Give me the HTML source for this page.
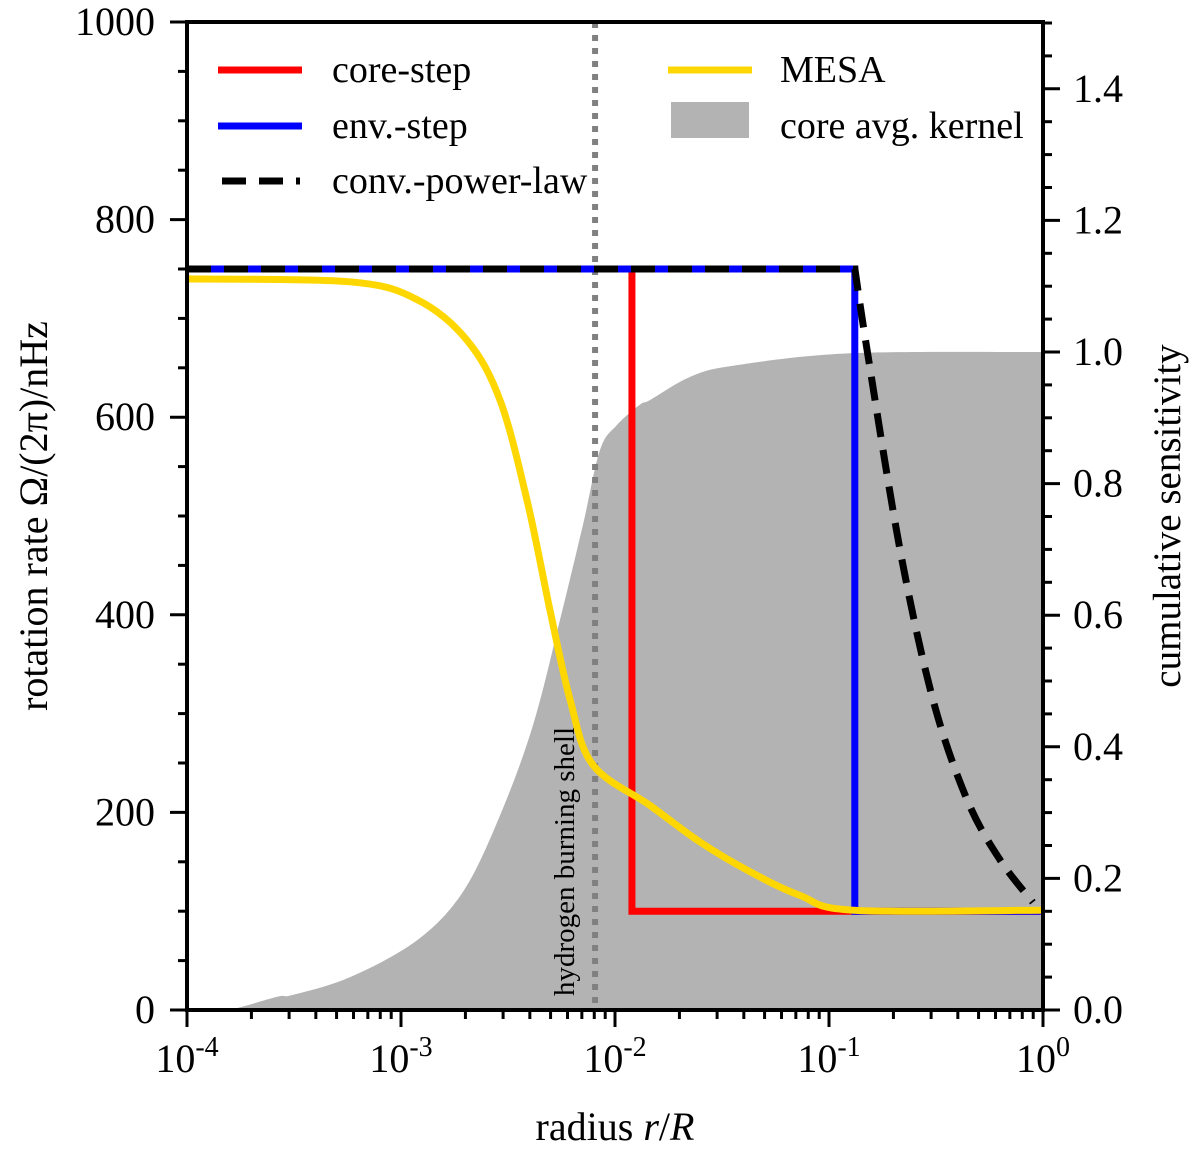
<!DOCTYPE html>
<html><head><meta charset="utf-8"><style>
html,body{margin:0;padding:0;background:#fff;}
svg{display:block;font-family:"Liberation Serif",serif;}
</style></head><body>
<svg id="chart" width="1200" height="1157" viewBox="0 0 1200 1157">
<g id="plot"></g>
</svg>
<script>
const kernelLogR=[-4,-3.813,-3.579,-3.505,-3.238,-2.925,-2.710,-2.537,-2.383,-2.257,-2.150,-2.070,-1.991,-1.883,-1.836,-1.650,-1.449,-0.902,0];
const kernelVal=[0,0,0.02,0.023,0.05,0.106,0.18,0.296,0.433,0.593,0.737,0.851,0.889,0.92,0.927,0.962,0.979,0.998,1.0];
const mesaLogR=[-4,-3.238,-2.925,-2.692,-2.537,-2.411,-2.304,-2.210,-2.103,-1.836,-1.603,-1.369,-1.136,-0.888,0];
const mesaVal=[740,737,719,678,617,516,405,314,248,207,170,140,116,101,101];
const powLogR=[-0.879,-0.822,-0.668,-0.514,-0.355,-0.201,-0.047];
const powVal=[750,668,466,314,213,152,109];
const coreStepR=0.012, envStepR=0.132, stepHigh=750, stepLow=100;
const hShellR=0.00807;
const yTicks=[0,200,400,600,800,1000];
const y2Ticks=[0.0,0.2,0.4,0.6,0.8,1.0,1.2,1.4];
const xDecades=[-4,-3,-2,-1,0];

const NS='http://www.w3.org/2000/svg';
const L=187,R=1043,T=22,B=1010;
const xs=lr=>L+(lr+4)*(R-L)/4;
const ys=v=>B-v*(B-T)/1000;
const y2=v=>B-v*658;
const g=document.getElementById('plot');
function el(tag,attrs,parent){const e=document.createElementNS(NS,tag);for(const k in attrs)e.setAttribute(k,attrs[k]);(parent||g).appendChild(e);return e;}
function smoothD(X,Y){let d='M'+X[0].toFixed(1)+','+Y[0].toFixed(1);
 for(let i=0;i<X.length-1;i++){const x0=X[Math.max(i-1,0)],y0=Y[Math.max(i-1,0)],x1=X[i],y1=Y[i],x2=X[i+1],y2_=Y[i+1],x3=X[Math.min(i+2,X.length-1)],y3=Y[Math.min(i+2,X.length-1)];
 const c1x=x1+(x2-x0)/6,c1y=y1+(y2_-y0)/6,c2x=x2-(x3-x1)/6,c2y=y2_-(y3-y1)/6;
 d+=` C${c1x.toFixed(1)},${c1y.toFixed(1)} ${c2x.toFixed(1)},${c2y.toFixed(1)} ${x2.toFixed(1)},${y2_.toFixed(1)}`;}
 return d;}

// kernel area
let kd=smoothD(kernelLogR.map(xs),kernelVal.map(y2))+` L${xs(0)},${B} L${xs(-4)},${B} Z`;
let k=el('path',{d:kd,fill:'#b3b3b3',stroke:'none'});



// h shell line
const hx=xs(Math.log10(hShellR));
let hl=el('line',{x1:hx,y1:T,x2:hx,y2:B,stroke:'#808080','stroke-width':6,'stroke-dasharray':'6,7'});


let ht=el('text',{x:0,y:0,'font-size':29,transform:`translate(${hx-21},996) rotate(-90)`});
ht.textContent='hydrogen burning shell';



const cx=xs(Math.log10(coreStepR)), ex=xs(Math.log10(envStepR));
let cs=el('path',{d:`M${L},${ys(stepHigh)} L${cx},${ys(stepHigh)} L${cx},${ys(stepLow)} L${R},${ys(stepLow)}`,fill:'none',stroke:'#ff0000','stroke-width':7});


let es=el('path',{d:`M${L},${ys(stepHigh)} L${ex},${ys(stepHigh)} L${ex},${ys(stepLow)} L${R},${ys(stepLow)}`,fill:'none',stroke:'#0000ff','stroke-width':7});


let pd=`M${L},${ys(stepHigh)} L`+smoothD(powLogR.map(xs),powVal.map(ys)).slice(1);
let pl=el('path',{d:pd,fill:'none',stroke:'#000','stroke-width':7,'stroke-dasharray':'24,13'});


let ms=el('path',{d:smoothD(mesaLogR.map(xs),mesaVal.map(ys)),fill:'none',stroke:'#ffd700','stroke-width':7,'stroke-linejoin':'round'});



let fr=el('rect',{x:L,y:T,width:R-L,height:B-T,fill:'none',stroke:'#000','stroke-width':4});



for(let v=0;v<=1000;v+=50){const major=v%200===0;el('line',{x1:L,x2:L-(major?17:9),y1:ys(v),y2:ys(v),stroke:'#000','stroke-width':3});}
yTicks.forEach(v=>{let t=el('text',{x:155,y:ys(v)+13,'font-size':40,'text-anchor':'end'});t.textContent=v;

});
for(let i=0;i<=30;i++){const v=i*0.05;if(y2(v)<T)break;const major=i%4===0;el('line',{x1:R,x2:R+(major?17:9),y1:y2(v),y2:y2(v),stroke:'#000','stroke-width':3});}
y2Ticks.forEach(v=>{let t=el('text',{x:1073,y:y2(v)+13,'font-size':40});t.textContent=v.toFixed(1);

});
xDecades.forEach((d,i)=>{el('line',{x1:xs(d),x2:xs(d),y1:B,y2:B+17,stroke:'#000','stroke-width':3});
 if(i<xDecades.length-1){for(let m=2;m<=9;m++){const x=xs(d+Math.log10(m));el('line',{x1:x,x2:x,y1:B,y2:B+9,stroke:'#000','stroke-width':3});}}
 let t=el('text',{x:xs(d),y:1072,'font-size':40,'text-anchor':'middle'});
 t.innerHTML='10<tspan dy="-16" font-size="28">'+d+'</tspan>';
 
 });

let xt=el('text',{x:615,y:1140,'font-size':40,'text-anchor':'middle'});
xt.innerHTML='radius <tspan font-style="italic">r</tspan>/<tspan font-style="italic">R</tspan>';


let yt=el('text',{x:0,y:0,'font-size':40,'text-anchor':'middle',transform:'translate(47,516) rotate(-90)'});
yt.textContent='rotation rate Ω/(2π)/nHz';


let y2t=el('text',{x:0,y:0,'font-size':39,'text-anchor':'middle',transform:'translate(1180,516) rotate(-90)'});
y2t.textContent='cumulative sensitivity';



const lg=el('g',{});


function entry(name,sx,sy,label,draw){const eg=el('g',{},lg);draw(eg);const t=el('text',{x:sx,y:sy+12,'font-size':38},eg);t.textContent=label;}
entry('legend-core-step',332,70,'core-step',p=>el('line',{x1:218,x2:302,y1:70,y2:70,stroke:'#ff0000','stroke-width':7},p));
entry('legend-env-step',332,126,'env.-step',p=>el('line',{x1:218,x2:302,y1:126,y2:126,stroke:'#0000ff','stroke-width':7},p));
entry('legend-conv-power-law',332,181,'conv.-power-law',p=>el('line',{x1:222,x2:300,y1:181,y2:181,stroke:'#000','stroke-width':7,'stroke-dasharray':'24,13'},p));
entry('legend-mesa',780,70,'MESA',p=>el('line',{x1:668,x2:752,y1:70,y2:70,stroke:'#ffd700','stroke-width':7},p));
entry('legend-kernel',780,126,'core avg. kernel',p=>el('rect',{x:671,y:102,width:78,height:36,fill:'#b3b3b3'},p));
</script>
</body></html>
